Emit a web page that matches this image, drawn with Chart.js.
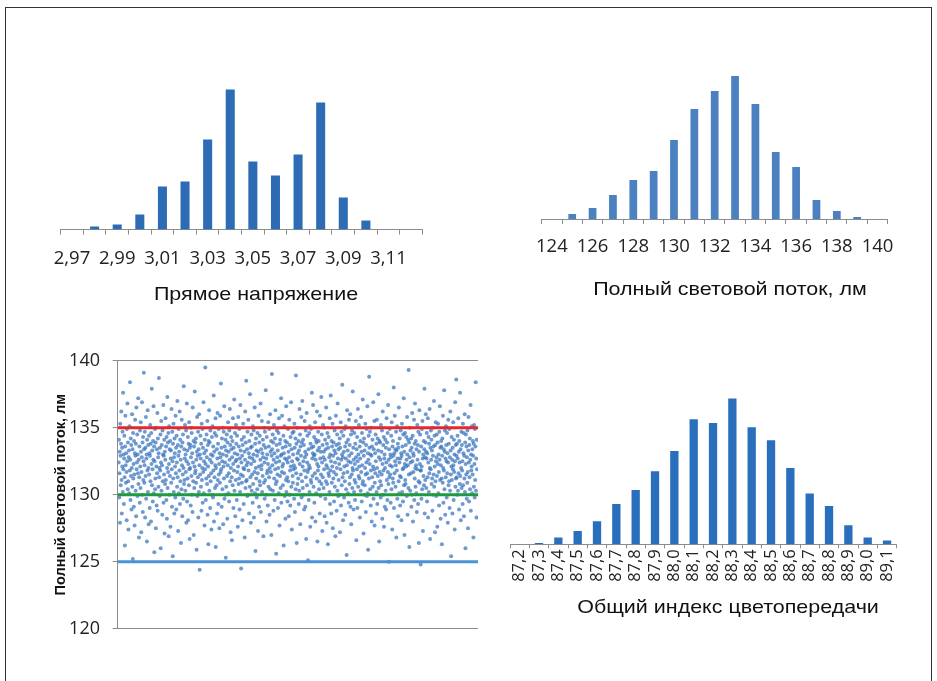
<!DOCTYPE html>
<html>
<head>
<meta charset="utf-8">
<script src="https://cdn.jsdelivr.net/npm/chart.js@4.4.1/dist/chart.umd.min.js"></script>
<style>
  html, body { margin: 0; padding: 0; background: #fff; }
  body { width: 937px; height: 681px; position: relative; overflow: hidden; }
  .frame { position: absolute; left: 5px; top: 7px; width: 925px; height: 700px;
           border: 1.5px solid #333; border-bottom: none; }
  canvas { position: absolute; }
  .caption { position: absolute; font-family: "Liberation Sans", Arial, sans-serif; font-size: 19px;
             line-height: 19px; color: #111; white-space: nowrap;
             transform: translateX(-50%) scaleX(1.13); }
</style>
</head>
<body>
<div class="frame"></div>

<canvas id="voltage" width="420" height="240" style="left:30px; top:60px"></canvas>
<canvas id="flux" width="410" height="250" style="left:510px; top:50px"></canvas>
<canvas id="scatter" width="450" height="300" style="left:40px; top:340px"></canvas>
<canvas id="cri" width="430" height="240" style="left:490px; top:370px"></canvas>

<div class="caption" style="left:256px; top:284px">Прямое напряжение</div>
<div class="caption" style="left:730px; top:279px">Полный световой поток, лм</div>
<div class="caption" style="left:728px; top:597px">Общий индекс цветопередачи</div>

<script>
// Прямое напряжение, В
const voltageBins = ['2,97', '2,98', '2,99', '3,00', '3,01', '3,02', '3,03', '3,04',
                     '3,05', '3,06', '3,07', '3,08', '3,09', '3,10', '3,11', '3,12'];
const voltageCounts = [0, 3, 5, 15, 43, 48, 90, 140, 68, 54, 75, 127, 32, 9, 0, 0];

// Полный световой поток, лм
const fluxBins = ['124', '125', '126', '127', '128', '129', '130', '131', '132',
                  '133', '134', '135', '136', '137', '138', '139', '140'];
const fluxCounts = [0, 5, 11, 24, 39, 48, 79, 110, 128, 143, 115, 67, 52, 19, 8, 2, 0];

// Общий индекс цветопередачи
const criBins = ['87,2', '87,3', '87,4', '87,5', '87,6', '87,7', '87,8', '87,9', '88,0', '88,1',
                 '88,2', '88,3', '88,4', '88,5', '88,6', '88,7', '88,8', '88,9', '89,0', '89,1'];
const criCounts = [0, 1.3, 6.7, 13.3, 23, 40.3, 54.3, 73, 93.3, 125,
                   121.3, 145.7, 117, 104, 76.3, 50.7, 38.3, 19, 6.7, 3.7];

// scatter: flux of each sample, in measurement order
const fluxSamples = [
  132.4, 134.1, 129.8, 131.6, 133.2, 127.9, 135.3, 132.9, 130.7, 133.8, 136.2, 131.1, 128.6, 133.5, 132.1, 134.7, 130.2, 137.6, 131.9, 133.0,
  129.3, 132.7, 134.4, 131.3, 126.2, 133.6, 135.9, 132.2, 130.9, 133.1, 131.7, 128.1, 134.9, 132.5, 136.8, 130.4, 133.9, 131.0, 127.4, 132.8,
  133.3, 130.1, 135.1, 131.8, 138.4, 132.6, 129.6, 134.2, 131.4, 133.7, 128.9, 132.0, 136.0, 130.6, 133.4, 125.2, 134.6, 131.2, 132.3, 129.1,
  134.0, 131.5, 127.7, 133.1, 135.6, 132.9, 130.3, 133.8, 128.4, 136.5, 131.9, 132.4, 134.5, 129.9, 133.0, 131.6, 137.2, 130.8, 132.6, 126.8,
  131.3, 133.6, 129.4, 134.8, 132.1, 130.5, 135.4, 133.2, 127.2, 131.7, 132.8, 136.9, 130.0, 133.9, 128.7, 134.3, 131.1, 132.5, 139.1, 133.4,
  130.9, 132.2, 134.7, 128.3, 133.5, 131.4, 135.8, 129.7, 132.7, 133.0, 126.5, 134.1, 131.8, 136.3, 130.2, 133.7, 132.0, 127.8, 134.4, 131.5,
  133.1, 129.0, 132.9, 135.2, 131.0, 133.8, 128.0, 134.6, 132.3, 137.9, 130.7, 133.3, 131.9, 129.5, 134.0, 132.6, 136.6, 130.1, 133.6, 125.7,
  132.5, 134.9, 130.4, 131.2, 133.9, 127.5, 135.0, 132.1, 129.2, 133.4, 131.6, 136.1, 128.8, 134.2, 132.8, 130.6, 133.1, 138.7, 131.3, 132.0,
  129.9, 133.5, 131.8, 134.5, 126.0, 132.4, 135.5, 130.3, 133.7, 132.2, 128.5, 134.8, 131.0, 133.0, 136.7, 129.4, 132.9, 131.5, 134.1, 127.1,
  133.2, 130.8, 132.6, 135.7, 131.1, 133.6, 129.6, 134.3, 128.2, 132.0, 137.3, 130.5, 133.9, 131.7, 134.6, 126.9, 132.3, 135.1, 130.0, 133.4,
  131.4, 134.0, 127.6, 132.7, 133.3, 130.9, 136.4, 131.9, 129.1, 134.7, 132.5, 125.4, 133.8, 131.2, 135.3, 130.2, 132.8, 128.6, 134.2, 133.1,
  132.1, 129.8, 135.9, 131.6, 133.5, 128.9, 134.4, 132.4, 130.6, 137.0, 131.3, 133.7, 127.3, 132.9, 134.9, 130.1, 133.2, 131.8, 136.2, 129.3,
  134.1, 131.0, 132.6, 126.4, 133.6, 130.4, 135.6, 132.2, 128.4, 133.9, 131.5, 134.5, 129.7, 132.0, 138.1, 130.8, 133.4, 131.1, 132.7, 135.2,
  130.3, 133.0, 131.7, 134.8, 127.9, 132.5, 136.8, 129.5, 133.3, 131.2, 134.3, 128.1, 132.3, 133.8, 130.7, 135.4, 131.9, 126.7, 133.5, 132.0,
  133.7, 129.2, 132.8, 135.0, 131.4, 134.6, 130.0, 133.1, 128.7, 136.5, 132.4, 131.0, 134.0, 127.0, 133.6, 130.5, 132.1, 137.7, 131.6, 133.9,
  131.8, 134.2, 130.9, 132.6, 125.9, 133.2, 135.8, 129.9, 132.9, 131.3, 134.7, 128.3, 133.4, 130.2, 136.0, 132.2, 124.4, 133.0, 131.5, 134.4,
  132.7, 130.6, 133.8, 128.8, 135.3, 131.1, 132.0, 134.9, 129.4, 133.5, 131.7, 136.9, 130.1, 132.5, 133.1, 127.7, 134.1, 131.9, 139.5, 132.3,
  129.6, 133.3, 131.2, 134.5, 132.8, 130.8, 135.5, 128.5, 133.7, 132.1, 126.3, 134.0, 131.4, 136.3, 130.3, 133.9, 132.6, 129.0, 134.8, 131.0,
  133.0, 131.6, 127.4, 132.4, 134.3, 130.0, 135.1, 132.9, 129.8, 133.6, 131.8, 137.4, 128.0, 133.2, 131.3, 134.6, 130.5, 132.2, 135.7, 126.1,
  132.0, 134.4, 130.7, 133.4, 128.6, 132.7, 136.1, 131.1, 133.8, 129.3, 134.9, 131.5, 132.3, 127.5, 133.1, 130.9, 135.9, 132.8, 131.7, 138.3,
  131.9, 133.5, 129.1, 134.2, 132.5, 130.4, 135.0, 133.0, 127.8, 132.1, 134.7, 131.2, 136.6, 129.7, 133.6, 132.4, 130.0, 134.1, 125.3, 133.3,
  130.6, 132.9, 134.5, 131.4, 128.2, 133.9, 132.2, 135.4, 130.1, 133.2, 131.6, 129.5, 134.8, 132.6, 136.4, 131.0, 133.7, 127.2, 132.0, 134.3,
  133.4, 131.3, 126.6, 132.8, 134.0, 130.7, 135.7, 132.3, 129.0, 133.5, 131.8, 137.1, 130.3, 133.1, 134.6, 128.4, 132.5, 131.1, 135.2, 133.8,
  132.6, 129.6, 134.4, 131.7, 133.0, 127.6, 132.1, 135.8, 130.8, 133.6, 131.2, 134.9, 128.9, 132.7, 130.2, 136.7, 133.3, 131.5, 124.5, 132.4,
  134.1, 130.9, 132.9, 128.1, 133.7, 131.4, 135.3, 132.0, 129.3, 134.3, 131.9, 133.2, 126.8, 132.6, 136.2, 130.5, 133.9, 131.0, 138.5, 132.2,
  131.1, 133.4, 129.9, 134.7, 132.4, 130.0, 135.6, 131.8, 133.1, 128.6, 134.0, 132.8, 130.6, 137.5, 131.3, 133.5, 127.9, 132.3, 134.5, 130.3,
  133.6, 131.5, 132.7, 129.4, 135.1, 130.8, 133.0, 134.8, 128.3, 132.5, 131.7, 136.5, 130.1, 133.8, 125.8, 132.0, 134.2, 131.2, 133.3, 129.8,
  132.9, 130.4, 134.6, 131.6, 127.3, 133.2, 135.9, 132.1, 129.1, 133.9, 131.0, 134.4, 130.7, 132.6, 136.8, 128.7, 133.4, 131.9, 132.2, 135.5,
  130.2, 133.1, 131.4, 134.1, 132.8, 126.9, 133.7, 130.9, 135.0, 132.4, 129.7, 134.7, 131.1, 133.5, 137.8, 130.0, 132.7, 128.0, 134.3, 131.6,
  133.0, 131.8, 129.2, 132.3, 135.4, 130.6, 133.6, 131.3, 134.9, 128.5, 132.0, 136.0, 130.4, 133.2, 131.7, 134.0, 127.0, 132.9, 139.0, 133.4,
  132.2, 134.5, 130.3, 133.9, 128.8, 132.6, 135.2, 131.2, 133.1, 129.6, 134.2, 131.9, 136.3, 130.8, 132.4, 125.6, 133.7, 131.0, 134.8, 132.8,
  131.5, 133.3, 129.0, 132.0, 134.6, 130.1, 135.7, 132.5, 127.7, 133.8, 131.4, 134.1, 130.5, 132.9, 137.2, 129.4, 133.0, 131.7, 135.9, 132.1,
  133.5, 130.7, 132.3, 134.4, 126.2, 133.1, 131.6, 135.1, 129.9, 132.7, 134.0, 128.2, 133.6, 131.1, 136.6, 130.2, 132.6, 133.9, 131.3, 129.5,
  132.4, 134.9, 131.0, 133.2, 128.4, 132.8, 135.6, 130.0, 133.7, 131.8, 129.2, 134.3, 132.1, 136.9, 130.6, 133.4, 127.4, 132.5, 134.6, 131.4,
  130.9, 133.0, 131.9, 134.7, 132.2, 129.7, 135.3, 133.5, 128.7, 132.0, 134.2, 130.4, 138.9, 131.6, 133.8, 126.4, 132.7, 135.0, 130.8, 133.1,
  132.6, 131.2, 134.0, 129.3, 133.3, 130.3, 136.4, 132.3, 134.5, 127.8, 133.6, 131.5, 132.9, 135.8, 129.8, 133.9, 131.0, 137.0, 132.1, 130.5,
  134.1, 132.5, 130.0, 133.7, 128.9, 131.8, 135.5, 132.8, 133.2, 129.1, 134.8, 131.3, 126.7, 133.0, 136.1, 130.7, 132.4, 134.4, 131.7, 125.1,
  131.9, 133.4, 129.6, 132.2, 134.6, 130.2, 135.1, 132.0, 127.6, 133.8, 131.1, 134.9, 130.9, 133.5, 137.6, 128.3, 132.7, 131.4, 133.1, 136.7,
  133.6, 130.6, 132.9, 134.3, 129.4, 133.0, 131.6, 135.4, 128.0, 132.6, 134.1, 130.1, 133.9, 131.2, 136.2, 132.3, 126.5, 133.3, 131.8, 134.7,
  132.1, 134.0, 130.4, 133.5, 131.0, 128.6, 135.9, 132.7, 129.9, 133.2, 131.5, 137.3, 130.8, 134.5, 132.4, 127.3, 133.7, 131.3, 135.2, 132.8,
  130.5, 133.2, 131.9, 135.0, 128.4, 132.6, 134.1, 129.7, 133.4, 131.0, 136.5, 132.2, 127.9, 133.8, 130.8, 134.6, 132.0, 126.3, 133.5, 131.6,
  134.3, 131.4, 132.8, 130.2, 135.7, 129.3, 133.0, 131.8, 137.4, 132.5, 128.6, 134.0, 130.9, 133.6, 132.1, 135.3, 127.5, 132.9, 131.2, 133.9,
  131.7, 129.5, 133.3, 134.8, 130.6, 132.4, 126.9, 133.1, 135.9, 131.5, 133.7, 128.8, 132.0, 134.5, 130.3, 136.8, 132.7, 129.9, 133.4, 131.1,
  133.8, 132.3, 130.0, 134.2, 127.2, 133.5, 131.9, 135.4, 129.2, 132.6, 134.7, 130.7, 133.0, 138.2, 131.3, 132.8, 128.1, 134.4, 131.6, 133.2,
  129.8, 132.1, 134.9, 131.0, 133.6, 128.5, 135.1, 132.7, 130.4, 133.9, 125.5, 132.2, 136.3, 131.7, 133.3, 130.1, 134.1, 132.5, 129.4, 135.6,
  132.9, 130.8, 133.7, 131.3, 136.0, 129.1, 132.4, 134.5, 127.8, 133.1, 131.5, 134.8, 130.5, 132.0, 137.7, 131.8, 133.5, 128.9, 132.6, 130.2,
  134.6, 131.1, 132.3, 129.6, 133.8, 130.9, 135.5, 132.8, 126.6, 133.4, 131.9, 134.3, 129.0, 132.5, 136.4, 130.6, 133.0, 131.4, 135.2, 132.1,
  131.2, 133.6, 128.3, 132.7, 134.0, 130.3, 135.8, 131.7, 133.2, 129.5, 134.6, 132.2, 130.8, 137.1, 131.0, 133.9, 127.1, 132.9, 134.2, 130.0,
  133.3, 130.7, 132.0, 135.3, 131.5, 128.7, 133.7, 132.4, 134.9, 129.9, 131.6, 136.6, 130.1, 133.1, 125.9, 132.6, 134.4, 131.2, 138.8, 133.5,
  132.3, 134.7, 130.4, 133.0, 129.2, 131.8, 135.0, 132.9, 128.0, 133.6, 131.3, 134.1, 130.6, 132.1, 136.9, 129.7, 133.4, 131.9, 135.5, 127.7,
  130.9, 133.1, 131.6, 134.5, 132.5, 128.6, 133.8, 130.2, 135.6, 132.0, 129.3, 134.2, 131.4, 133.3, 137.5, 130.5, 132.8, 126.5, 134.0, 131.7,
  133.9, 131.0, 132.6, 129.8, 135.2, 130.7, 133.2, 131.5, 134.8, 128.2, 132.3, 136.2, 130.0, 133.7, 131.8, 134.3, 127.6, 132.7, 133.0, 129.1,
  132.0, 134.1, 130.3, 133.5, 128.9, 132.4, 135.7, 131.1, 133.9, 129.6, 134.6, 131.7, 136.7, 130.8, 132.6, 125.0, 133.4, 131.3, 134.9, 132.2,
  131.5, 133.0, 129.4, 132.8, 134.4, 130.4, 135.4, 132.1, 127.4, 133.6, 131.2, 134.0, 130.9, 132.9, 138.0, 129.0, 133.1, 131.6, 135.9, 132.5,
  133.4, 130.6, 132.2, 134.7, 126.8, 133.3, 131.8, 135.1, 129.7, 132.7, 133.8, 128.4, 133.5, 131.0, 136.5, 130.1, 132.4, 134.2, 131.4, 129.2,
  132.7, 134.8, 131.3, 133.1, 128.1, 132.9, 135.3, 130.2, 133.6, 131.9, 129.5, 134.5, 132.0, 137.2, 130.7, 133.2, 127.0, 132.3, 134.6, 131.1,
  130.8, 133.7, 132.1, 134.3, 132.6, 129.9, 135.8, 133.0, 128.5, 132.2, 134.1, 130.5, 139.3, 131.5, 133.9, 126.1, 132.8, 135.0, 130.3, 133.3,
  132.4, 131.6, 134.2, 129.1, 133.5, 130.0, 136.1, 132.5, 134.4, 128.0, 133.1, 131.7, 132.9, 135.6, 129.6, 133.8, 131.2, 136.8, 132.0, 130.6,
  134.0, 132.2, 130.1, 133.4, 128.7, 131.9, 135.2, 132.6, 133.7, 129.3, 134.7, 131.0, 126.4, 133.2, 136.3, 130.9, 132.3, 134.5, 131.8, 124.8,
  131.8, 133.6, 129.7, 132.1, 134.9, 130.4, 135.5, 132.7, 127.3, 133.0, 131.4, 134.0, 130.7, 133.4, 137.9, 128.6, 132.8, 131.1, 133.9, 136.0,
  133.2, 130.5, 132.7, 134.6, 129.5, 133.1, 131.3, 135.7, 128.3, 132.4, 134.3, 130.2, 133.8, 131.6, 136.4, 132.0, 126.7, 133.5, 131.9, 134.8,
  132.6, 134.1, 130.8, 133.3, 131.2, 128.8, 135.0, 132.9, 130.0, 133.6, 131.5, 137.0, 130.6, 134.4, 132.1, 127.2, 133.7, 131.0, 135.4, 132.5,
  129.9, 132.8, 134.5, 131.4, 127.6, 133.9, 132.3, 135.3, 130.1, 133.0, 131.7, 129.2, 134.7, 132.6, 136.6, 131.1, 133.5, 128.2, 132.2, 134.0,
  133.6, 131.2, 126.3, 132.9, 134.2, 130.9, 135.9, 132.0, 129.4, 133.4, 131.8, 137.8, 130.4, 133.2, 134.8, 128.5, 132.7, 131.3, 135.1, 133.7,
  132.5, 129.8, 134.6, 131.6, 133.1, 127.9, 132.4, 135.6, 130.7, 133.8, 131.0, 134.9, 129.0, 132.8, 130.3, 136.2, 133.3, 131.5, 125.4, 132.1,
  134.3, 131.1, 132.6, 128.6, 133.5, 131.9, 135.4, 132.2, 129.6, 134.1, 131.7, 133.0, 127.4, 132.5, 136.9, 130.6, 133.7, 131.2, 138.6, 132.9,
  131.3, 133.8, 130.0, 134.4, 132.7, 130.3, 135.7, 131.6, 133.2, 128.9, 134.0, 132.4, 130.8, 137.6, 131.4, 133.4, 128.1, 132.0, 134.7, 130.5,
  133.7, 131.8, 132.5, 129.3, 135.3, 130.7, 133.1, 134.6, 128.4, 132.9, 131.2, 136.0, 130.2, 133.9, 126.0, 132.3, 134.5, 131.5, 133.6, 129.7,
  132.8, 130.9, 134.8, 131.7, 127.5, 133.3, 135.8, 132.4, 129.5, 133.7, 131.3, 134.2, 130.4, 132.6, 136.7, 128.8, 133.0, 131.8, 132.1, 135.1,
  130.1, 133.4, 131.5, 134.0, 132.9, 126.8, 133.8, 130.6, 135.2, 132.3, 129.8, 134.9, 131.1, 133.6, 138.4, 130.3, 132.7, 128.3, 134.1, 131.9
];
// upper limit, nominal, lower limit
const limitLevels = [135, 130, 125];
const fluxTicks = [120, 125, 130, 135, 140];

const numFont = { family: '"Open Sans", sans-serif', size: 18.5 };
const axisGrey = '#8c8c8c';

function histogram(id, labels, counts, color, opts) {
    new Chart(document.getElementById(id), {
        type: 'bar',
        data: {
            labels: labels,
            datasets: [{
                data: counts,
                backgroundColor: color,
                barPercentage: opts.bar,
                categoryPercentage: 1
            }]
        },
        options: {
            responsive: false,
            animation: false,
            devicePixelRatio: 1,
            layout: { padding: opts.pad },
            plugins: { legend: { display: false }, tooltip: { enabled: false } },
            scales: {
                x: {
                    border: { color: axisGrey, width: 1 },
                    grid: { drawOnChartArea: false, drawTicks: true, tickLength: opts.tick, color: axisGrey },
                    ticks: {
                        autoSkip: false,
                        minRotation: opts.rot, maxRotation: opts.rot,
                        padding: opts.labelPad,
                        color: '#222',
                        font: opts.font,
                        callback: (v, i) => (opts.every === 1 || i % 2 === 0) ? labels[i] : ''
                    },
                    afterFit: s => { s.height = opts.axisH; }
                },
                y: { display: false, min: 0, max: 150 }
            }
        }
    });
}

histogram('voltage', voltageBins, voltageCounts, '#2d6cb5',
    { bar: 0.4, pad: { left: 30.7, right: 27.6, top: 19.5, bottom: 30.5 }, tick: 5, rot: 0,
      labelPad: 13, font: numFont, every: 2, axisH: 40 });

histogram('flux', fluxBins, fluxCounts, '#4b80c1',
    { bar: 0.38, pad: { left: 31.7, right: 32.3, top: 19, bottom: 41 }, tick: 5, rot: 0,
      labelPad: 12, font: numFont, every: 2, axisH: 40 });

histogram('cri', criBins, criCounts, '#2a6fbc',
    { bar: 0.43, pad: { left: 20, right: 23.3, top: 24.3, bottom: 20.7 }, tick: 4, rot: 90,
      labelPad: 1, font: { family: '"Open Sans", sans-serif', size: 16.5 }, every: 1, axisH: 45 });

// scatter with limit lines
const xMin = -4, xMax = fluxSamples.length + 3;
const limitColors = ['#e5282b', '#1f9a3d', '#4a92d8'];
const scatterSets = [{
    type: 'scatter',
    data: fluxSamples.map((v, i) => ({ x: i, y: v })),
    backgroundColor: 'rgba(55, 115, 190, 0.72)',
    borderWidth: 0,
    pointRadius: 2,
    order: 1
}];
limitLevels.forEach((lvl, k) => {
    scatterSets.push({
        type: 'line',
        data: [{ x: xMin, y: lvl }, { x: xMax, y: lvl }],
        borderColor: limitColors[k],
        borderWidth: 3,
        pointRadius: 0,
        order: 0
    });
});

new Chart(document.getElementById('scatter'), {
    type: 'scatter',
    data: { datasets: scatterSets },
    options: {
        responsive: false,
        animation: false,
        devicePixelRatio: 1,
        layout: { padding: { left: 0, right: 12, top: 20.7, bottom: 11.3 } },
        plugins: { legend: { display: false }, tooltip: { enabled: false } },
        scales: {
            x: { type: 'linear', display: false, min: xMin, max: xMax },
            y: {
                min: fluxTicks[0], max: fluxTicks[fluxTicks.length - 1],
                afterBuildTicks: s => { s.ticks = fluxTicks.map(v => ({ value: v })); },
                border: { color: axisGrey, width: 1 },
                grid: { color: axisGrey, tickLength: 5, drawTicks: true },
                ticks: { color: '#222', font: { family: '"Open Sans", sans-serif', size: 18 }, padding: 12.7 },
                title: {
                    display: true,
                    text: 'Полный световой поток, лм',
                    color: '#111',
                    font: { family: '"Liberation Sans", Arial, sans-serif', size: 14.5, weight: 'bold' },
                    padding: { top: 12, bottom: 0 }
                },
                afterFit: s => { s.width = 77.7; s.paddingTop = 0; s.paddingBottom = 0; }
            }
        }
    }
});
</script>
</body>
</html>
